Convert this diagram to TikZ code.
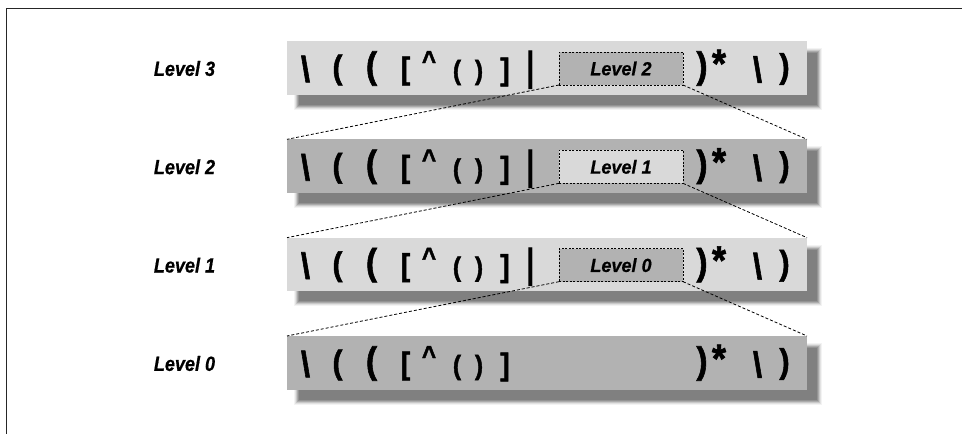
\documentclass[tikz,border=0pt]{standalone}
\usepackage{fontspec}
\setmainfont{Liberation Sans}
\newfontfamily\labelfont[FakeStretch=0.88, BoldItalicFeatures={FakeBold=0.6}]{Liberation Sans}
\newfontfamily\innerfont[FakeStretch=0.95, BoldItalicFeatures={FakeBold=0.5}]{Liberation Sans}
\newfontfamily\glyphfont[FakeStretch=0.9, BoldFeatures={FakeBold=1.6}]{Liberation Sans}
\newfontfamily\pipefont[FakeStretch=0.75]{Liberation Sans}
\definecolor{barlight}{HTML}{D9D9D9}
\definecolor{bardark}{HTML}{B2B2B2}
\definecolor{shA}{HTML}{F3F3F3}
\definecolor{shB}{HTML}{E2E2E2}
\definecolor{shC}{HTML}{C9C9C9}
\definecolor{shD}{HTML}{ABABAB}
\definecolor{shE}{HTML}{939393}
\definecolor{shF}{HTML}{808080}
\tikzset{
  barbox/.style={minimum width=520pt, minimum height=53.5pt, inner sep=0pt, outer sep=0pt},
  innerbox/.style={draw=black, line width=0.8pt, dash pattern=on 2pt off 1.5pt,
    minimum width=124pt, minimum height=33pt, inner sep=0pt, outer sep=0pt,
    font=\innerfont\bfseries\itshape\fontsize{19}{19}\selectfont},
  link/.style={line width=0.8pt, dash pattern=on 3pt off 2pt},
  levellabel/.style={font=\labelfont\bfseries\itshape\fontsize{20.5}{20.5}\selectfont, inner sep=0pt},
  glyph/.style={inner sep=0pt, outer sep=0pt, font=\glyphfont\bfseries},
  pipeglyph/.style={inner sep=0pt, outer sep=0pt, font=\pipefont\bfseries},
}
\begin{document}
\begin{tikzpicture}[x=1pt,y=-1pt]
\useasboundingbox (0,0) rectangle (962,434);
% frame
\draw[line width=1.6pt, black!85] (962,8.5) -- (6.5,8.5) -- (6.5,434);
% levels
\foreach \lv/\ty/\bc in {3/41/barlight, 2/139.33/bardark, 1/237.67/barlight, 0/336/bardark}{
  % blurred shadow
  \foreach \e/\sc in {4/shA, 3/shB, 2/shC, 1/shD, 0/shE, -1/shF}{
    \fill[\sc] (298-\e, \ty+11-\e) rectangle (818+\e, \ty+64.5+\e);
  }
  \node[barbox, fill=\bc] (bar\lv) at (547, \ty+26.75) {};
  \node[levellabel] (lab\lv) at (184.5, \ty+27.5) {Level \lv};
}
% inner boxes
\foreach \lv/\ty/\ic in {3/41/bardark, 2/139.33/barlight, 1/237.67/bardark}{
  \pgfmathtruncatemacro{\nx}{\lv-1}
  \node[innerbox, fill=\ic] (in\lv) at (621, \ty+27.5) {Level \nx};
  \node[pipeglyph] (bar\lv-pipe) at (530.5, \ty+29.5) {\fontsize{41}{41}\selectfont |};
}
% connectors
\draw[link] (in3.south west) -- (bar2.north west);
\draw[link] (in3.south east) -- (bar2.north east);
\draw[link] (in2.south west) -- (bar1.north west);
\draw[link] (in2.south east) -- (bar1.north east);
\draw[link] (in1.south west) -- (bar0.north west);
\draw[link] (in1.south east) -- (bar0.north east);
% glyphs of the expression
\foreach \lv/\ty in {3/41, 2/139.33, 1/237.67, 0/336}{
  \foreach \gx/\gy/\gs/\gc [count=\k] in {
      305.5/28/36/{\textbackslash},
      337.5/29/33/{(},
      371.5/27.5/37/{(},
      405.5/30/31/{[},
      429/19.5/27/{\textasciicircum},
      457/31.5/27/{(},
      479/31.5/27/{)},
      505/31/31/{]},
      702/27.5/37/{)},
      719/22.5/40/{*},
      757.5/28.5/36/{\textbackslash},
      784.5/28/34/{)}}{
    \node[glyph] (g\lv-\k) at (\gx, \ty+\gy) {\fontsize{\gs}{\gs}\selectfont \gc};
  }
}
\end{tikzpicture}
\end{document}
